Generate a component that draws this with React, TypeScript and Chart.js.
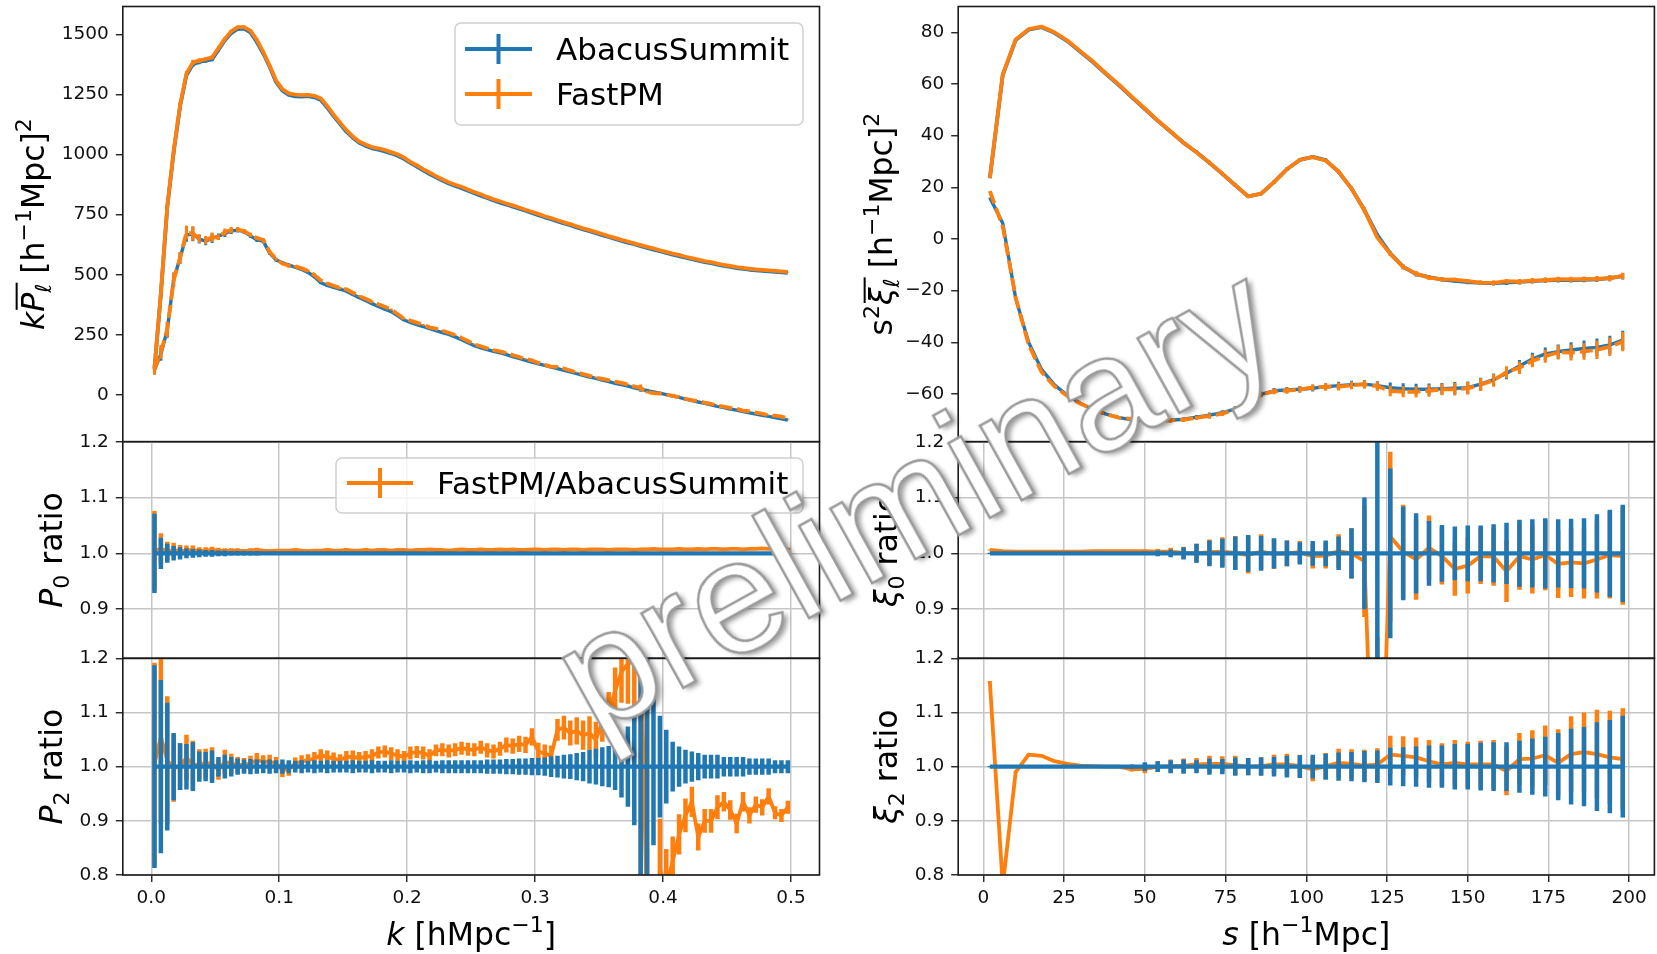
import React, { useEffect, useRef } from "react";
import { Chart, registerables } from "chart.js";

Chart.register(...registerables);

// ---------------- data ----------------
const K = [
  0.0025, 0.0075, 0.0125, 0.0175, 0.0225, 0.0275, 0.0325, 0.0375, 0.0425, 0.0475,
  0.0525, 0.0575, 0.0625, 0.0675, 0.0725, 0.0775, 0.0825, 0.0875, 0.0925, 0.0975,
  0.1025, 0.1075, 0.1125, 0.1175, 0.1225, 0.1275, 0.1325, 0.1375, 0.1425, 0.1475,
  0.1525, 0.1575, 0.1625, 0.1675, 0.1725, 0.1775, 0.1825, 0.1875, 0.1925, 0.1975,
  0.2025, 0.2075, 0.2125, 0.2175, 0.2225, 0.2275, 0.2325, 0.2375, 0.2425, 0.2475,
  0.2525, 0.2575, 0.2625, 0.2675, 0.2725, 0.2775, 0.2825, 0.2875, 0.2925, 0.2975,
  0.3025, 0.3075, 0.3125, 0.3175, 0.3225, 0.3275, 0.3325, 0.3375, 0.3425, 0.3475,
  0.3525, 0.3575, 0.3625, 0.3675, 0.3725, 0.3775, 0.3825, 0.3875, 0.3925, 0.3975,
  0.4025, 0.4075, 0.4125, 0.4175, 0.4225, 0.4275, 0.4325, 0.4375, 0.4425, 0.4475,
  0.4525, 0.4575, 0.4625, 0.4675, 0.4725, 0.4775, 0.4825, 0.4875, 0.4925, 0.4975,
];

// k * P0 (AbacusSummit)
const P0_ABACUS = [
  110, 420, 780, 1010, 1200, 1330, 1375, 1385, 1390, 1396,
  1435, 1475, 1505, 1522, 1524, 1508, 1468, 1420, 1365, 1302,
  1266, 1248, 1242, 1241, 1243, 1238, 1227, 1195, 1160, 1128,
  1095, 1070, 1049, 1036, 1026, 1020, 1013, 1005, 995, 982,
  965, 950, 934, 919, 905, 892, 880, 869, 860, 850,
  839, 829, 819, 809, 800, 792, 783, 775, 766, 757,
  748, 739, 731, 722, 714, 706, 697, 689, 681, 673,
  665, 657, 649, 641, 634, 627, 619, 612, 605, 598,
  591, 584, 578, 571, 565, 559, 553, 548, 542, 537,
  533, 528, 525, 521, 518, 516, 514, 512, 510, 508,
];

// k * P2 (AbacusSummit)
const P2_ABACUS = [
  105, 170, 270, 480, 570, 665, 670, 648, 640, 652,
  660, 672, 682, 686, 680, 662, 645, 640, 590, 562,
  550, 540, 532, 522, 510, 492, 467, 456, 448, 440,
  432, 418, 405, 393, 380, 368, 357, 347, 330, 312,
  302, 293, 285, 276, 268, 260, 252, 242, 230, 218,
  205, 196, 189, 182, 176, 168, 160, 152, 144, 137,
  130, 123, 116, 110, 103, 96, 89, 82, 75, 69,
  62, 56, 49, 43, 37, 30, 24, 18, 13, 8,
  2, -4, -10, -17, -23, -29, -35, -41, -47, -52,
  -58, -63, -69, -74, -79, -84, -89, -94, -99, -104,
];

// FastPM / AbacusSummit, monopole
const P0_RATIO = [
  1.005, 1.008, 1.004, 1.006, 1.004, 1.005, 1.006, 1.004, 1.005, 1.006,
  1.005, 1.004, 1.005, 1.005, 1.004, 1.005, 1.006, 1.005, 1.004, 1.005,
  1.005, 1.005, 1.006, 1.005, 1.004, 1.005, 1.005, 1.006, 1.005, 1.005,
  1.006, 1.005, 1.005, 1.006, 1.005, 1.006, 1.006, 1.005, 1.006, 1.006,
  1.005, 1.006, 1.006, 1.007, 1.006, 1.006, 1.005, 1.006, 1.007, 1.006,
  1.006, 1.007, 1.006, 1.006, 1.007, 1.006, 1.007, 1.006, 1.006, 1.007,
  1.007, 1.006, 1.007, 1.007, 1.006, 1.007, 1.007, 1.006, 1.007, 1.007,
  1.007, 1.006, 1.007, 1.007, 1.007, 1.006, 1.007, 1.007, 1.008, 1.007,
  1.007, 1.007, 1.008, 1.007, 1.007, 1.008, 1.007, 1.008, 1.008, 1.007,
  1.008, 1.008, 1.007, 1.008, 1.008, 1.009, 1.008, 1.008, 1.009, 1.008,
];

// relative 1-sigma error, monopole
const P0_RELERR = [
  0.071, 0.028, 0.017, 0.013, 0.011, 0.009, 0.008, 0.007, 0.006, 0.006,
  0.005, 0.005, 0.004, 0.004, 0.004, 0.004, 0.004, 0.003, 0.003, 0.003,
  0.003, 0.003, 0.003, 0.003, 0.003, 0.003, 0.003, 0.003, 0.003, 0.003,
  0.003, 0.003, 0.003, 0.003, 0.003, 0.003, 0.003, 0.003, 0.003, 0.003,
  0.002, 0.002, 0.002, 0.002, 0.002, 0.002, 0.002, 0.002, 0.002, 0.002,
  0.002, 0.002, 0.002, 0.002, 0.002, 0.002, 0.002, 0.002, 0.002, 0.002,
  0.002, 0.002, 0.002, 0.002, 0.002, 0.002, 0.002, 0.002, 0.002, 0.002,
  0.002, 0.002, 0.002, 0.002, 0.002, 0.002, 0.002, 0.002, 0.002, 0.002,
  0.002, 0.002, 0.002, 0.002, 0.002, 0.002, 0.002, 0.002, 0.002, 0.002,
  0.002, 0.002, 0.002, 0.002, 0.002, 0.002, 0.002, 0.002, 0.002, 0.002,
];

// FastPM / AbacusSummit, quadrupole
const P2_RATIO = [
  1.005, 1.055, 1.012, 0.997, 1.0, 1.017, 1.003, 1.004, 1.006, 1.006,
  0.994, 1.009, 1.006, 1.003, 1.003, 1.006, 1.012, 1.009, 1.009, 1.006,
  0.994, 0.995, 1.006, 1.009, 1.012, 1.015, 1.021, 1.018, 1.015, 1.012,
  1.018, 1.018, 1.016, 1.018, 1.02, 1.026, 1.028, 1.024, 1.021, 1.018,
  1.025, 1.027, 1.025, 1.02, 1.03, 1.031, 1.029, 1.031, 1.034, 1.032,
  1.031, 1.036, 1.03, 1.028, 1.033, 1.04, 1.038, 1.042, 1.04, 1.055,
  1.028, 1.024, 1.02, 1.068, 1.072, 1.062, 1.066, 1.058, 1.062, 1.05,
  1.082, 1.1, 1.14, 1.175, 1.19, 1.195, 1.25, 0.7, 0.6, 0.81,
  0.78, 0.825, 0.875, 0.91, 0.935, 0.87, 0.9, 0.9, 0.925, 0.935,
  0.92, 0.895, 0.935, 0.91, 0.93, 0.925, 0.945, 0.915, 0.91, 0.925,
];

// relative 1-sigma error, quadrupole
const P2_RELERR = [
  0.187, 0.16, 0.118, 0.062, 0.043, 0.042, 0.045, 0.028, 0.027, 0.03,
  0.018, 0.022, 0.018, 0.015, 0.013, 0.014, 0.013, 0.012, 0.013, 0.012,
  0.013, 0.012, 0.011, 0.012, 0.011, 0.012, 0.011, 0.012, 0.011, 0.011,
  0.011, 0.012, 0.011, 0.011, 0.012, 0.011, 0.011, 0.012, 0.011, 0.011,
  0.012, 0.011, 0.012, 0.012, 0.011, 0.012, 0.012, 0.012, 0.012, 0.012,
  0.012, 0.012, 0.013, 0.013, 0.013, 0.014, 0.014, 0.015, 0.015, 0.016,
  0.016, 0.017, 0.019, 0.02, 0.022, 0.023, 0.025, 0.027, 0.031, 0.033,
  0.036, 0.038, 0.043, 0.057, 0.074, 0.108, 0.45, 0.45, 0.145, 0.094,
  0.068, 0.046, 0.037, 0.031, 0.028, 0.025, 0.022, 0.022, 0.022, 0.018,
  0.018, 0.018, 0.018, 0.015, 0.015, 0.015, 0.015, 0.012, 0.012, 0.012,
];

const S = [
  2, 6, 10, 14, 18, 22, 26, 30, 34, 38,
  42, 46, 50, 54, 58, 62, 66, 70, 74, 78,
  82, 86, 90, 94, 98, 102, 106, 110, 114, 118,
  122, 126, 130, 134, 138, 142, 146, 150, 154, 158,
  162, 166, 170, 174, 178, 182, 186, 190, 194, 198,
];

// s^2 xi0 (AbacusSummit)
const XI0_ABACUS = [
  23.5, 63.5, 77, 81, 82, 79.8, 76.6, 72.5, 68.4, 63.8,
  59.5, 54.8, 50.3, 45.7, 41.5, 37.2, 33.6, 29.5, 25.2, 20.8,
  16.5, 17.5, 22, 27, 30.6, 31.8, 30.5, 26, 19.5, 11.2,
  1.5, -5.6, -10.8, -13.6, -14.8, -15.7, -16.2, -16.7, -17.0, -17.1,
  -16.9, -16.6, -16.3, -16.0, -15.9, -15.9, -15.8, -15.6, -15.2, -14.4,
];

// s^2 xi2 (AbacusSummit)
const XI2_ABACUS = [
  16.0, 6.1, -23, -40, -50.5, -56.5, -60.5, -63.6, -66, -67.8,
  -69.2, -70, -70.2, -70.3, -70.2, -69.8, -69, -68.2, -67.3, -65.8,
  -63.2, -60.2, -58.8, -58.5, -58.2, -57.8, -57.2, -56.8, -56.4, -56.2,
  -56.8, -57.6, -58, -58.2, -58.2, -58, -57.8, -57.6, -56.2, -54.5,
  -52, -49.2, -46.5, -44.5, -43.6, -43, -42.4, -42, -41, -39.2,
];

const XI0_RATIO = [
  1.006, 1.004, 1.003, 1.003, 1.003, 1.003, 1.003, 1.003, 1.004, 1.004,
  1.004, 1.004, 1.004, 1.003, 1.003, 1.001, 1.0, 1.002, 1.003, 1.001,
  0.997, 1.003, 0.999, 1.0, 1.002, 0.995, 0.996, 1.004, 1.0, 0.986,
  0.35, 1.03, 1.003, 0.989, 1.01, 0.995, 0.972, 0.978, 0.995, 0.994,
  0.968, 0.995, 0.989, 0.997, 0.981, 0.984, 0.982, 0.989, 0.997, 0.995,
];

const XI0_RELERR = [
  0.001, 0.001, 0.001, 0.001, 0.001, 0.001, 0.001, 0.001, 0.001, 0.001,
  0.002, 0.002, 0.003, 0.005, 0.007, 0.011, 0.017, 0.023, 0.026, 0.03,
  0.033, 0.031, 0.027, 0.023, 0.02, 0.022, 0.023, 0.03, 0.045, 0.1,
  0.5, 0.152, 0.084, 0.072, 0.058, 0.051, 0.048, 0.05, 0.05, 0.052,
  0.055, 0.06, 0.061, 0.063, 0.061, 0.062, 0.063, 0.07, 0.078, 0.087,
];

const XI2_RATIO = [
  1.157, 0.78, 0.99, 1.022, 1.02, 1.01, 1.005, 1.002, 1.001, 1.0,
  1.0, 0.995, 0.996, 1.0, 1.001, 1.002, 1.004, 1.005, 1.005, 1.003,
  1.0, 1.001, 1.004, 1.004, 1.001, 0.995, 1.001, 1.007, 1.005, 1.002,
  1.004, 1.022, 1.02, 1.017, 1.01, 1.004, 1.007, 1.004, 1.004, 1.004,
  0.992, 1.014, 1.015, 1.021, 1.007, 1.023, 1.027, 1.023, 1.017, 1.014,
];

const XI2_RELERR = [
  0.001, 0.001, 0.001, 0.001, 0.001, 0.001, 0.001, 0.001, 0.001, 0.001,
  0.002, 0.004, 0.008, 0.01, 0.012, 0.013, 0.012, 0.015, 0.014, 0.017,
  0.016, 0.017, 0.018, 0.02, 0.021, 0.022, 0.024, 0.026, 0.027, 0.029,
  0.03, 0.035, 0.036, 0.037, 0.039, 0.039, 0.042, 0.042, 0.044, 0.045,
  0.045, 0.048, 0.052, 0.055, 0.062, 0.07, 0.073, 0.082, 0.086, 0.094,
];

const K_TICKS = [0, 0.1, 0.2, 0.3, 0.4, 0.5];
const S_TICKS = [0, 25, 50, 75, 100, 125, 150, 175, 200];
const P_TICKS = [0, 250, 500, 750, 1000, 1250, 1500];
const XI_TICKS = [-60, -40, -20, 0, 20, 40, 60, 80];
const RATIO_TICKS_MID = [0.9, 1.0, 1.1, 1.2];
const RATIO_TICKS_BOT = [0.8, 0.9, 1.0, 1.1, 1.2];

// ---------------- style / geometry ----------------
const BLUE = "#1f77b4";
const ORANGE = "#ff7f0e";
const FONT = '"DejaVu Sans", "Noto Sans", sans-serif';
const W = 1657;
const H = 954;
const COL = [
  { l: 122.8, r: 819.5 },
  { l: 958.2, r: 1654.4 },
];
const ROW = [
  { t: 6.5, b: 441.7 },
  { t: 441.7, b: 658.3 },
  { t: 658.3, b: 875 },
];
const YAXIS_W = 100;
const XAXIS_H = 70;
const TITLE_SIZE = 31.5;
const TICK_SIZE = 18.5;

type Seg = { t: string; it?: boolean; sup?: boolean; sub?: boolean; over?: boolean };

function drawRich(ctx: CanvasRenderingContext2D, segs: Seg[], x: number, y: number, size: number, vertical: boolean) {
  const fontOf = (s: Seg) => `${s.it ? "italic " : ""}${s.sup || s.sub ? size * 0.7 : size}px ${FONT}`;
  const widths = segs.map((s) => {
    ctx.font = fontOf(s);
    return ctx.measureText(s.t).width;
  });
  const total = widths.reduce((a, b) => a + b, 0);
  ctx.save();
  ctx.translate(x, y);
  if (vertical) ctx.rotate(-Math.PI / 2);
  ctx.fillStyle = "#000";
  ctx.textAlign = "left";
  ctx.textBaseline = "alphabetic";
  let cx = -total / 2;
  let o0: number | null = null;
  let o1 = 0;
  segs.forEach((s, i) => {
    ctx.font = fontOf(s);
    const dy = s.sup ? -0.42 * size : s.sub ? 0.22 * size : 0;
    ctx.fillText(s.t, cx, dy);
    if (s.over) {
      if (o0 === null) o0 = cx;
      o1 = cx + widths[i];
    }
    cx += widths[i];
  });
  if (o0 !== null) ctx.fillRect(o0 + 2, -0.9 * size, o1 - o0 - 1, 2);
  ctx.restore();
}

type LegendSpec = {
  x: number; y: number; w: number; h: number;
  hx1: number; hx2: number; tx: number;
  entries: { color: string; label: string; y: number }[];
};

function drawLegend(ctx: CanvasRenderingContext2D, L: LegendSpec) {
  ctx.save();
  ctx.beginPath();
  (ctx as any).roundRect(L.x, L.y, L.w, L.h, 6);
  ctx.fillStyle = "rgba(255,255,255,0.8)";
  ctx.fill();
  ctx.strokeStyle = "#d0d0d0";
  ctx.lineWidth = 1.5;
  ctx.stroke();
  L.entries.forEach((e) => {
    ctx.strokeStyle = e.color;
    ctx.lineWidth = 4;
    ctx.lineCap = "butt";
    ctx.beginPath();
    ctx.moveTo(L.hx1, e.y);
    ctx.lineTo(L.hx2, e.y);
    const mx = (L.hx1 + L.hx2) / 2;
    ctx.moveTo(mx, e.y - 15);
    ctx.lineTo(mx, e.y + 15);
    ctx.stroke();
    ctx.fillStyle = "#000";
    ctx.font = `31px ${FONT}`;
    ctx.textAlign = "left";
    ctx.textBaseline = "alphabetic";
    ctx.fillText(e.label, L.tx, e.y + 11);
  });
  ctx.restore();
}

type Panel = {
  col: number;
  row: number;
  datasets: any[];
  xMin: number; xMax: number; xTicks: number[]; xFmt: (v: number) => string;
  yMin: number; yMax: number; yTicks: number[]; yFmt: (v: number) => string;
  grid: boolean;
  yTitle: { segs: Seg[]; x: number };
  xTitle?: Seg[];
  legend?: LegendSpec;
};

const pts = (xs: number[], ys: number[]) => xs.map((x, i) => ({ x, y: ys[i] }));
const times = (a: number[], b: number[]) => a.map((v, i) => v * b[i]);
const absErr = (vals: number[], rel: number[]) => vals.map((v, i) => Math.abs(v * rel[i]));
const ones = (xs: number[]) => xs.map(() => 1);

function lineDs(data: any[], color: string, extra: any = {}) {
  return {
    data,
    borderColor: color,
    backgroundColor: color,
    borderWidth: 3.8,
    pointRadius: 0,
    pointHoverRadius: 0,
    tension: 0,
    fill: false,
    clip: 0,
    borderJoinStyle: "round",
    borderCapStyle: "butt",
    ...extra,
  };
}

const fmt1 = (v: number) => v.toFixed(1);
const fmtInt = (v: number) => (v < 0 ? "\u2212" + Math.abs(Math.round(v)) : String(Math.round(v)));

function buildPanels(): Panel[] {
  const P0_FAST = times(P0_ABACUS, P0_RATIO);
  const P2_FAST = times(P2_ABACUS, P2_RATIO);
  const XI0_FAST = times(XI0_ABACUS, XI0_RATIO);
  const XI2_FAST = times(XI2_ABACUS, XI2_RATIO);
  const kMin = -0.02225, kMax = 0.52225;
  const sMin = -7.8, sMax = 207.8;

  const mainP = [
    lineDs(pts(K, P0_FAST), ORANGE, { errors: absErr(P0_FAST, P0_RELERR), errColor: ORANGE, errWidth: 3 }),
    lineDs(pts(K, P2_FAST), ORANGE, { borderDash: [13, 5], errors: absErr(P2_FAST, P2_RELERR), errColor: ORANGE, errWidth: 3 }),
    lineDs(pts(K, P0_ABACUS), BLUE, { errors: absErr(P0_ABACUS, P0_RELERR), errColor: BLUE, errWidth: 3 }),
    lineDs(pts(K, P2_ABACUS), BLUE, { borderWidth: 3.4, errors: absErr(P2_ABACUS, P2_RELERR), errColor: BLUE, errWidth: 3 }),
  ];
  const mainXi = [
    lineDs(pts(S, XI0_FAST), ORANGE, { errors: absErr(XI0_FAST, XI0_RELERR), errColor: ORANGE, errWidth: 3 }),
    lineDs(pts(S, XI2_FAST), ORANGE, { borderDash: [13, 5], errors: absErr(XI2_FAST, XI2_RELERR), errColor: ORANGE, errWidth: 3 }),
    lineDs(pts(S, XI0_ABACUS), BLUE, { errors: absErr(XI0_ABACUS, XI0_RELERR), errColor: BLUE, errWidth: 3 }),
    lineDs(pts(S, XI2_ABACUS), BLUE, { borderWidth: 3.4, errors: absErr(XI2_ABACUS, XI2_RELERR), errColor: BLUE, errWidth: 3 }),
  ];
  const ratio = (xs: number[], r: number[], e: number[]) => [
    lineDs(pts(xs, ones(xs)), BLUE, { order: 0, borderWidth: 4.2, errors: e, errColor: BLUE, errWidth: 4.5 }),
    lineDs(pts(xs, r), ORANGE, { order: 1, borderWidth: 3.8, errors: e, errColor: ORANGE, errWidth: 4.5 }),
  ];

  const unitY: Seg[] = [{ t: " [h" }, { t: "\u22121", sup: true }, { t: "Mpc]" }, { t: "2", sup: true }];

  return [
    {
      col: 0, row: 0, datasets: mainP,
      xMin: kMin, xMax: kMax, xTicks: K_TICKS, xFmt: fmt1,
      yMin: -194, yMax: 1615.6, yTicks: P_TICKS, yFmt: fmtInt,
      grid: false,
      yTitle: { x: 44, segs: [{ t: "k", it: true }, { t: "P", it: true, over: true }, { t: "\u2113", it: true, sub: true, over: true }, ...unitY] },
      legend: {
        x: 455, y: 23, w: 348, h: 102, hx1: 465, hx2: 532, tx: 556,
        entries: [
          { color: BLUE, label: "AbacusSummit", y: 49 },
          { color: ORANGE, label: "FastPM", y: 94 },
        ],
      },
    },
    {
      col: 0, row: 1, datasets: ratio(K, P0_RATIO, P0_RELERR),
      xMin: kMin, xMax: kMax, xTicks: K_TICKS, xFmt: fmt1,
      yMin: 0.812, yMax: 1.2, yTicks: RATIO_TICKS_MID, yFmt: fmt1,
      grid: true,
      yTitle: { x: 62, segs: [{ t: "P", it: true }, { t: "0", sub: true }, { t: " ratio" }] },
      legend: {
        x: 336, y: 458, w: 467, h: 55, hx1: 347, hx2: 413, tx: 437,
        entries: [{ color: ORANGE, label: "FastPM/AbacusSummit", y: 483 }],
      },
    },
    {
      col: 0, row: 2, datasets: ratio(K, P2_RATIO, P2_RELERR),
      xMin: kMin, xMax: kMax, xTicks: K_TICKS, xFmt: fmt1,
      yMin: 0.8, yMax: 1.2, yTicks: RATIO_TICKS_BOT, yFmt: fmt1,
      grid: true,
      yTitle: { x: 62, segs: [{ t: "P", it: true }, { t: "2", sub: true }, { t: " ratio" }] },
      xTitle: [{ t: "k", it: true }, { t: " [hMpc" }, { t: "\u22121", sup: true }, { t: "]" }],
    },
    {
      col: 1, row: 0, datasets: mainXi,
      xMin: sMin, xMax: sMax, xTicks: S_TICKS, xFmt: fmtInt,
      yMin: -78.5, yMax: 90, yTicks: XI_TICKS, yFmt: fmtInt,
      grid: false,
      yTitle: { x: 892, segs: [{ t: "s" }, { t: "2", sup: true }, { t: "\u03be", it: true, over: true }, { t: "\u2113", it: true, sub: true, over: true }, ...unitY] },
    },
    {
      col: 1, row: 1, datasets: ratio(S, XI0_RATIO, XI0_RELERR),
      xMin: sMin, xMax: sMax, xTicks: S_TICKS, xFmt: fmtInt,
      yMin: 0.812, yMax: 1.2, yTicks: RATIO_TICKS_MID, yFmt: fmt1,
      grid: true,
      yTitle: { x: 897, segs: [{ t: "\u03be", it: true }, { t: "0", sub: true }, { t: " ratio" }] },
    },
    {
      col: 1, row: 2, datasets: ratio(S, XI2_RATIO, XI2_RELERR),
      xMin: sMin, xMax: sMax, xTicks: S_TICKS, xFmt: fmtInt,
      yMin: 0.8, yMax: 1.2, yTicks: RATIO_TICKS_BOT, yFmt: fmt1,
      grid: true,
      yTitle: { x: 897, segs: [{ t: "\u03be", it: true }, { t: "2", sub: true }, { t: " ratio" }] },
      xTitle: [{ t: "s", it: true }, { t: " [h" }, { t: "\u22121", sup: true }, { t: "Mpc]" }],
    },
  ];
}

function zeroPad(s: any) {
  s.paddingTop = 0;
  s.paddingBottom = 0;
  s.paddingLeft = 0;
  s.paddingRight = 0;
}

function buildConfig(p: Panel) {
  const c = COL[p.col];
  const r = ROW[p.row];
  const showX = p.row === 2;
  const padding = {
    left: c.l - YAXIS_W,
    right: W - c.r,
    top: r.t,
    bottom: H - r.b - (showX ? XAXIS_H : 0),
  };
  const decor = {
    id: "decor",
    beforeDatasetDraw(chart: any, args: any) {
      const ds: any = chart.data.datasets[args.index];
      if (!ds.errors) return;
      const ctx: CanvasRenderingContext2D = chart.ctx;
      const a = chart.chartArea;
      const xs = chart.scales.x;
      const ys = chart.scales.y;
      ctx.save();
      ctx.beginPath();
      ctx.rect(a.left, a.top, a.right - a.left, a.bottom - a.top);
      ctx.clip();
      ctx.strokeStyle = ds.errColor;
      ctx.lineWidth = ds.errWidth;
      ctx.lineCap = "butt";
      ctx.beginPath();
      ds.data.forEach((pt: any, i: number) => {
        const e = ds.errors[i];
        if (!e) return;
        const px = xs.getPixelForValue(pt.x);
        ctx.moveTo(px, ys.getPixelForValue(pt.y - e));
        ctx.lineTo(px, ys.getPixelForValue(pt.y + e));
      });
      ctx.stroke();
      ctx.restore();
    },
    afterDraw(chart: any) {
      const ctx: CanvasRenderingContext2D = chart.ctx;
      const a = chart.chartArea;
      if (p.legend) drawLegend(ctx, p.legend);
      ctx.save();
      ctx.strokeStyle = "#1a1a1a";
      ctx.lineWidth = 1.6;
      ctx.strokeRect(a.left, a.top, a.right - a.left, a.bottom - a.top);
      ctx.restore();
      drawRich(ctx, p.yTitle.segs, p.yTitle.x, (a.top + a.bottom) / 2, TITLE_SIZE, true);
      if (p.xTitle) drawRich(ctx, p.xTitle, (a.left + a.right) / 2, 945, TITLE_SIZE, false);
    },
  };
  return {
    type: "line",
    data: { datasets: p.datasets },
    options: {
      responsive: false,
      maintainAspectRatio: false,
      animation: false,
      devicePixelRatio: 1,
      events: [],
      layout: { padding, autoPadding: false },
      plugins: {
        legend: { display: false },
        tooltip: { enabled: false },
        title: { display: false },
      },
      scales: {
        x: {
          type: "linear",
          position: "bottom",
          min: p.xMin,
          max: p.xMax,
          afterBuildTicks: (s: any) => {
            s.ticks = p.xTicks.map((v) => ({ value: v }));
          },
          afterFit: (s: any) => {
            s.height = showX ? XAXIS_H : 0;
            zeroPad(s);
          },
          ticks: {
            display: showX,
            autoSkip: false,
            maxRotation: 0,
            font: { family: FONT, size: TICK_SIZE },
            color: "#111",
            padding: 5,
            callback: (v: any) => p.xFmt(Number(v)),
          },
          grid: {
            display: p.grid || showX,
            drawOnChartArea: p.grid,
            drawTicks: showX,
            tickLength: 7,
            tickColor: "#222",
            tickWidth: 1.4,
            color: "#c6c6c6",
            lineWidth: 1.5,
          },
          border: { display: false },
        },
        y: {
          type: "linear",
          position: "left",
          min: p.yMin,
          max: p.yMax,
          afterBuildTicks: (s: any) => {
            s.ticks = p.yTicks.map((v) => ({ value: v }));
          },
          afterFit: (s: any) => {
            s.width = YAXIS_W;
            zeroPad(s);
          },
          ticks: {
            autoSkip: false,
            font: { family: FONT, size: TICK_SIZE },
            color: "#111",
            padding: 7,
            callback: (v: any) => p.yFmt(Number(v)),
          },
          grid: {
            display: true,
            drawOnChartArea: p.grid,
            drawTicks: true,
            tickLength: 7,
            tickColor: "#222",
            tickWidth: 1.4,
            color: "#c6c6c6",
            lineWidth: 1.5,
          },
          border: { display: false },
        },
      },
    },
    plugins: [decor],
  };
}

const PANELS = buildPanels();

export default function App() {
  const refs = useRef<(HTMLCanvasElement | null)[]>([]);
  useEffect(() => {
    document.body.style.margin = "0";
    const charts = PANELS.map((p, i) => new Chart(refs.current[i] as HTMLCanvasElement, buildConfig(p) as any));
    return () => charts.forEach((c) => c.destroy());
  }, []);
  return (
    <div style={{ position: "fixed", left: 0, top: 0, width: W, height: H, background: "#fff", overflow: "hidden" }}>
      {PANELS.map((_, i) => (
        <canvas
          key={i}
          ref={(el) => {
            refs.current[i] = el;
          }}
          width={W}
          height={H}
          style={{ position: "absolute", left: 0, top: 0 }}
        />
      ))}
      <div
        style={{
          position: "absolute",
          left: 914,
          top: 496,
          transform: "translate(-50%, -50%) rotate(-29deg)",
          fontFamily: '"Liberation Sans", Arial, sans-serif',
          fontSize: 162,
          lineHeight: 1,
          color: "#ffffff",
          WebkitTextStroke: "2.5px #9a9a9a",
          textShadow: "3px 4px 5px rgba(0,0,0,0.4)",
          whiteSpace: "nowrap",
          pointerEvents: "none",
        }}
      >
        preliminary
      </div>
    </div>
  );
}
